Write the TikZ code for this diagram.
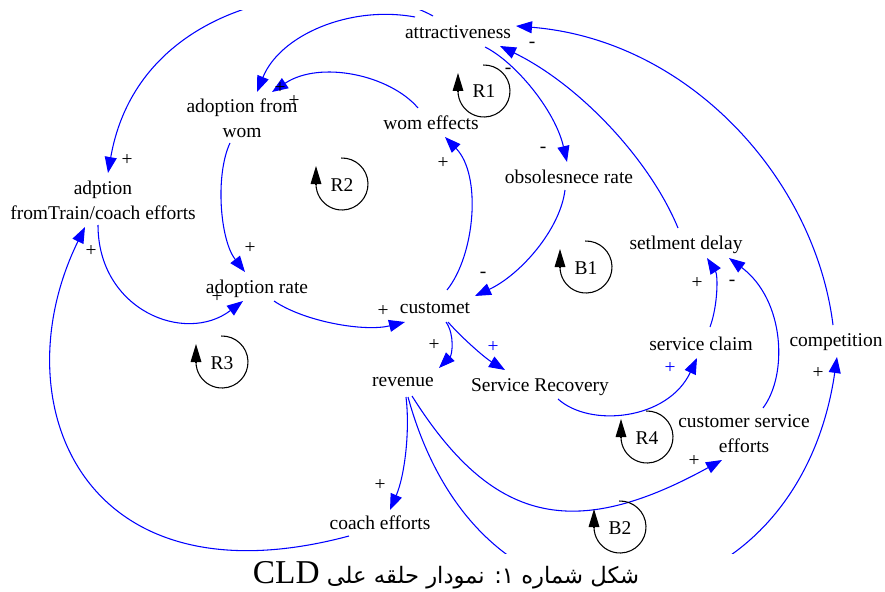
\documentclass[tikz,border=0pt]{standalone}
\usepackage{fontspec}
\setmainfont{Liberation Serif}
\newfontfamily\arabicfont[Script=Arabic]{DejaVu Sans}
\TeXXeTstate=1
\usetikzlibrary{arrows.meta}
\definecolor{linkblue}{RGB}{0,0,255}
\newcommand\varfont{\fontsize{14.6}{18.75}\selectfont}
\tikzset{
  var/.style={inner sep=0pt, font=\varfont, anchor=base},
  vartwo/.style={inner sep=0pt, font=\varfont, align=center, anchor=center},
  sign/.style={inner sep=0pt, font=\varfont},
  bluesign/.style={sign, text=linkblue},
  link/.style={draw=linkblue, line width=0.8pt, -{Triangle[length=12pt,width=9pt]}},
  loopline/.style={draw=black, line width=0.8pt},
  looptip/.style={draw=black, line width=0.8pt, -{Triangle[length=13.5pt,width=8pt]}},
  looplabel/.style={inner sep=0pt, font=\varfont, anchor=base},
}
% loop marker: name, x, y, label
\newcommand\cldloop[4]{%
  \coordinate (#1) at (#2,#3);
  \draw[loopline] (#1) ++(92:19.5pt) arc[start angle=92, end angle=-180, radius=19.5pt];
  \draw[looptip] (#1) ++(-19.5pt,0pt) -- ++(0pt,13.5pt);
  \node[looplabel] (#1-label) at (#2,#3+7) {#4};
}
\begin{document}
\begin{tikzpicture}[x=0.75pt, y=-0.75pt]
\path[use as bounding box, fill=white] (0,0) rectangle (885,592);

% variables
\node[var] (attr) at (458,39) {attractiveness};
\node[vartwo] (womA) at (242,118) {adoption from\\wom};
\node[var] (wome) at (431,129) {wom effects};
\node[vartwo] (adpt) at (103,200) {adption\\fromTrain/coach efforts};
\node[var] (obs) at (569,183) {obsolesnece rate};
\node[var] (setl) at (686,249) {setlment delay};
\node[var] (arate) at (257,293) {adoption rate};
\node[var] (cust) at (435,313) {customet};
\node[var] (rev) at (403,386) {revenue};
\node[var] (srec) at (540,391) {Service Recovery};
\node[var] (sclaim) at (701,350) {service claim};
\node[var] (comp) at (836,346) {competition};
\node[vartwo] (cse) at (744,434) {customer service\\efforts};
\node[var] (coach) at (380,529) {coach efforts};

% causal links
\begin{scope}
\clip (0,11) rectangle (885,553);
\draw[link] ([shift={(-43,-22)}]attr.base) .. controls (350,5) and (280,35) .. ([shift={(15,-26)}]womA.center);
\draw[link] ([shift={(-13,-21)}]wome.base) .. controls (390,75) and (320,60) .. ([shift={(30,-26)}]womA.center);
\draw[link] ([shift={(-25,-23)}]attr.base) .. controls (350,-30) and (140,-10) .. ([shift={(5,-27)}]adpt.center);
\draw[link] ([shift={(-12,25)}]womA.center) .. controls (215,175) and (220,240) .. ([shift={(-12,-21)}]arate.base);
\draw[link] ([shift={(-5,25)}]adpt.center) .. controls (98,310) and (185,345) .. ([shift={(-14,8)}]arate.base);
\draw[link] ([shift={(17,8)}]arate.base) .. controls (305,322) and (365,332) .. ([shift={(-30,9)}]cust.base);
\draw[link] ([shift={(12,-23)}]cust.base) .. controls (475,255) and (482,175) .. ([shift={(14,8)}]wome.base);
\draw[link] ([shift={(27,8)}]attr.base) .. controls (515,62) and (555,110) .. ([shift={(-2,-21)}]obs.base);
\draw[link] ([shift={(-4,7)}]obs.base) .. controls (560,230) and (520,275) .. ([shift={(40,-17)}]cust.base);
\draw[link] ([shift={(-8,-21)}]setl.base) .. controls (650,160) and (580,85) .. ([shift={(42,7)}]attr.base);
\draw[link] ([shift={(-3,-21)}]comp.base) .. controls (815,180) and (690,40) .. ([shift={(58,-13)}]attr.base);
\draw[link] ([shift={(9,-23)}]sclaim.base) .. controls (718,305) and (718,275) .. ([shift={(21,9)}]setl.base);
\draw[link] ([shift={(19,-26)}]cse.center) .. controls (788,375) and (785,300) .. ([shift={(43,9)}]setl.base);
\draw[link] ([shift={(11,9)}]cust.base) .. controls (455,335) and (452,355) .. ([shift={(36,-18)}]rev.base);
\draw[link] ([shift={(13,9)}]cust.base) .. controls (462,338) and (485,358) .. ([shift={(-35,-21)}]srec.base);
\draw[link] ([shift={(18,8)}]srec.base) .. controls (590,428) and (668,420) .. ([shift={(-4,8)}]sclaim.base);
\draw[link] ([shift={(3,11)}]rev.base) .. controls (410,430) and (405,475) .. ([shift={(10,-19)}]coach.base);
\draw[link] ([shift={(9,10)}]rev.base) .. controls (492,523) and (573,542) .. ([shift={(-22,26)}]cse.center);
\draw[link] ([shift={(5,11)}]rev.base) .. controls (487,685) and (797,634) .. ([shift={(1,11)}]comp.base);
\draw[link] ([shift={(-31,7)}]coach.base) .. controls (80,608) and (0,400) .. ([shift={(-18,27)}]adpt.center);
\end{scope}

% polarity signs
\node[sign] (s1) at (294,101) {+};
\node[sign] (s2) at (280,88) {+};
\node[sign] (s3) at (127,160) {+};
\node[sign] (s4) at (250,248) {+};
\node[sign] (s5) at (91,251) {+};
\node[sign] (s6) at (217,297) {+};
\node[sign] (s7) at (383,311) {+};
\node[sign] (s8) at (443,163) {+};
\node[sign] (s9) at (543,150) {-};
\node[sign] (s10) at (508,71) {-};
\node[sign] (s11) at (532,45) {-};
\node[sign] (s12) at (483,275) {-};
\node[sign] (s13) at (697,283) {+};
\node[sign] (s14) at (732,283) {-};
\node[sign] (s15) at (434,345) {+};
\node[bluesign] (s16) at (493,347) {+};
\node[bluesign] (s17) at (670,368) {+};
\node[sign] (s18) at (380,485) {+};
\node[sign] (s19) at (694,461) {+};
\node[sign] (s20) at (818,373) {+};

% loop identifiers
\cldloop{R1}{484}{91}{R1}
\cldloop{R2}{342}{184}{R2}
\cldloop{R3}{222}{362}{R3}
\cldloop{R4}{647}{437}{R4}
\cldloop{B1}{586}{267}{B1}
\cldloop{B2}{620}{527}{B2}

% caption
\node[anchor=base, inner sep=0pt] (caption) at (446,583)
  {\beginR{\arabicfont\fontsize{17}{21}\selectfont شکل شماره ۱{}: نمودار حلقه علی }\beginL{\fontsize{25}{30}\selectfont CLD}\endL\endR};
\end{tikzpicture}
\end{document}
